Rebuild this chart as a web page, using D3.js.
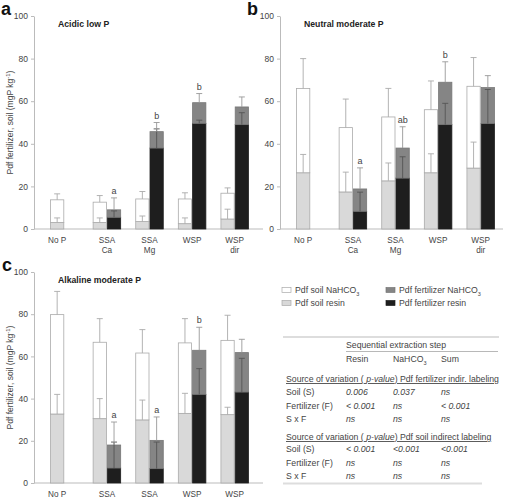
<!DOCTYPE html>
<html>
<head>
<meta charset="utf-8">
<script src="https://cdn.jsdelivr.net/npm/d3@7"></script>
<style>
  body { margin: 0; background: #fff; }
  svg { font-family: "Liberation Sans", Arial, sans-serif; }
</style>
</head>
<body>
<div id="chart"></div>
<script>
// categories (one slot per treatment)
var labelsAB = [["No P"], ["SSA", "Ca"], ["SSA", "Mg"], ["WSP"], ["WSP", "dir"]];
var labelsC = [["No P"], ["SSA"], ["SSA"], ["WSP"], ["WSP"]];
var yTicks = [0, 20, 40, 60, 80, 100];

// panel a - acidic low P (segment values, mg P/kg, and SE)
var aSoilResin = [3.1, 3.1, 3.5, 2.5, 4.7];
var aSoilResinErr = [2.1, 2.1, 2.6, 2.7, 4.6];
var aSoilNa = [10.6, 9.5, 10.6, 11.6, 12.1];
var aSoilNaErr = [2.8, 3.1, 3.5, 2.9, 2.5];
var aFertResin = [null, 5.5, 38, 49.6, 49];
var aFertResinErr = [null, 3, 9, 1.5, 5.6];
var aFertNa = [null, 3.5, 7.7, 9.7, 8.3];
var aFertNaErr = [null, 5.6, 4.3, 4.3, 4.7];
var aLetters = ["", "a", "b", "b", ""];

// panel b - neutral moderate P
var bSoilResin = [26.4, 17.4, 22.6, 26.4, 28.6];
var bSoilResinErr = [8.6, 9.3, 8.4, 8.9, 12.2];
var bSoilNa = [39.6, 30.2, 30, 29.6, 38.4];
var bSoilNaErr = [14, 13.4, 13.4, 13.5, 13.5];
var bFertResin = [null, 8.3, 23.9, 49, 49.5];
var bFertResinErr = [null, 9, 10, 10, 16];
var bFertNa = [null, 10.5, 14.1, 19.9, 16.9];
var bFertNaErr = [null, 9.9, 10, 9.6, 5.6];
var bLetters = ["", "a", "ab", "b", ""];

// panel c - alkaline moderate P
var cSoilResin = [32.7, 30.5, 29.9, 33, 32.4];
var cSoilResinErr = [9.3, 9.5, 9.4, 9.5, 3.5];
var cSoilNa = [47.1, 36.2, 31.7, 33.4, 35.2];
var cSoilNaErr = [11, 11.2, 11.1, 11.5, 11.9];
var cFertResin = [null, 7.1, 6.8, 42, 43.1];
var cFertResinErr = [null, 12.3, 12.6, 12.2, 16];
var cFertNa = [null, 10.9, 13.4, 20.9, 18.7];
var cFertNaErr = [null, 10.9, 11.1, 10.9, 6.3];
var cLetters = ["", "a", "a", "b", ""];

// legend and table text
var legendItems = [
  { name: "Pdf soil NaHCO", sub: "3", key: "soilNa" },
  { name: "Pdf fertilizer NaHCO", sub: "3", key: "fertNa" },
  { name: "Pdf soil resin", sub: "", key: "soilResin" },
  { name: "Pdf fertilizer resin", sub: "", key: "fertResin" }
];
var tableCols = ["Resin", "NaHCO", "Sum"];
var tableRows1 = [
  ["Soil (S)", "0.006", "0.037", "ns"],
  ["Fertilizer (F)", "< 0.001", "ns", "< 0.001"],
  ["S x F", "ns", "ns", "ns"]
];
var tableRows2 = [
  ["Soil (S)", "< 0.001", "<0.001", "<0.001"],
  ["Fertilizer (F)", "ns", "ns", "ns"],
  ["S x F", "ns", "ns", "ns"]
];

var fills = { soilNa: "#ffffff", soilResin: "#d9d9d9", fertNa: "#858585", fertResin: "#1e1e1e" };
var strokes = { soilNa: "#aaa", soilResin: "#aaa", fertNa: "#777", fertResin: "#1e1e1e" };
var textCol = "#444";

var svg = d3.select("#chart").append("svg")
    .attr("width", 508)
    .attr("height", 500);

function drawPanel(p) {
  var g = svg.append("g");
  var idx = d3.range(p.labels.length);

  var x = d3.scaleBand()
      .domain(idx)
      .range(p.xRange)
      .paddingInner(0.33)
      .paddingOuter(0.165);
  var bw = x.bandwidth() / 2;

  var y = d3.scaleLinear()
      .domain([0, 100])
      .range(p.yRange);

  // y axis
  var ax = g.append("g")
      .attr("transform", "translate(" + p.axisX + ",0)")
      .call(d3.axisLeft(y).tickValues(yTicks).tickSize(3).tickSizeOuter(0).tickPadding(3));
  ax.select(".domain").attr("stroke", "#bbb");
  ax.selectAll(".tick line").attr("stroke", "#bbb");
  ax.selectAll(".tick text").attr("fill", textCol).style("font-size", "8.5px");

  // baseline
  g.append("line")
      .attr("x1", p.axisX).attr("x2", p.xEnd)
      .attr("y1", y(0)).attr("y2", y(0))
      .attr("stroke", "#bbb");

  // rows of data
  var rows = idx.map(function (i) {
    return {
      i: i,
      sr: p.soilResin[i], srE: p.soilResinErr[i],
      sn: p.soilNa[i], snE: p.soilNaErr[i],
      fr: p.fertResin[i], frE: p.fertResinErr[i],
      fn: p.fertNa[i], fnE: p.fertNaErr[i],
      letter: p.letters[i]
    };
  });

  function soilX(d) { return x(d.i); }
  function fertX(d) { return x(d.i) + bw; }

  var segs = [];
  rows.forEach(function (d) {
    segs.push({ x: soilX(d), y0: 0, y1: d.sr, k: "soilResin" });
    segs.push({ x: soilX(d), y0: d.sr, y1: d.sr + d.sn, k: "soilNa" });
    if (d.fr != null) {
      segs.push({ x: fertX(d), y0: 0, y1: d.fr, k: "fertResin" });
      segs.push({ x: fertX(d), y0: d.fr, y1: d.fr + d.fn, k: "fertNa" });
    }
  });

  g.append("g").selectAll("rect")
      .data(segs)
      .enter()
      .append("rect")
      .attr("x", function (d) { return d.x + 0.5; })
      .attr("width", bw - 1)
      .attr("y", function (d) { return y(d.y1); })
      .attr("height", function (d) { return y(d.y0) - y(d.y1); })
      .attr("fill", function (d) { return fills[d.k]; })
      .attr("stroke", function (d) { return strokes[d.k]; })
      .attr("stroke-width", 0.8);

  // error bars
  var errs = [];
  rows.forEach(function (d) {
    errs.push({ x: soilX(d) + bw / 2, v: d.sr, e: d.srE, c: "#aaa" });
    errs.push({ x: soilX(d) + bw / 2, v: d.sr + d.sn, e: d.snE, c: "#aaa" });
    if (d.fr != null) {
      errs.push({ x: fertX(d) + bw / 2, v: d.fr, e: d.frE, c: "#555" });
      errs.push({ x: fertX(d) + bw / 2, v: d.fr + d.fn, e: d.fnE, c: "#999" });
    }
  });
  var eg = g.append("g").selectAll("g")
      .data(errs)
      .enter()
      .append("g");
  eg.append("line")
      .attr("x1", function (d) { return d.x; })
      .attr("x2", function (d) { return d.x; })
      .attr("y1", function (d) { return y(d.v); })
      .attr("y2", function (d) { return y(d.v + d.e); })
      .attr("stroke", function (d) { return d.c; })
      .attr("stroke-width", 0.9);
  eg.append("line")
      .attr("x1", function (d) { return d.x - 3; })
      .attr("x2", function (d) { return d.x + 3; })
      .attr("y1", function (d) { return y(d.v + d.e); })
      .attr("y2", function (d) { return y(d.v + d.e); })
      .attr("stroke", function (d) { return d.c; })
      .attr("stroke-width", 0.9);

  // significance letters
  g.append("g").selectAll("text")
      .data(rows.filter(function (d) { return d.letter; }))
      .enter()
      .append("text")
      .attr("x", function (d) { return fertX(d) + bw / 2; })
      .attr("y", function (d) { return y(d.fr + d.fn + d.fnE) - 4; })
      .attr("text-anchor", "middle")
      .attr("fill", textCol)
      .style("font-size", "9px")
      .text(function (d) { return d.letter; });

  // category labels (No P sits under its single bar)
  var lab = g.append("g").selectAll("text")
      .data(rows)
      .enter()
      .append("text")
      .attr("x", function (d) {
        return d.fr == null ? soilX(d) + bw / 2 : x(d.i) + x.bandwidth() / 2;
      })
      .attr("y", y(0) + 14)
      .attr("text-anchor", "middle")
      .attr("fill", textCol)
      .style("font-size", "8.2px");
  lab.each(function (d) {
    var t = d3.select(this);
    p.labels[d.i].forEach(function (line, k) {
      t.append("tspan")
          .attr("x", t.attr("x"))
          .attr("dy", k === 0 ? 0 : 9.5)
          .text(line);
    });
  });

  // panel letter and title
  g.append("text")
      .attr("x", p.letterX).attr("y", p.yRange[1] - 1)
      .style("font-size", "18px").style("font-weight", "bold")
      .attr("fill", "#111")
      .text(p.letter);
  g.append("text")
      .attr("x", p.titleX).attr("y", p.yRange[1] + 11)
      .style("font-size", "8.7px").style("font-weight", "bold")
      .attr("fill", "#222")
      .text(p.title);

  // y title
  if (p.yTitle) {
    var yt = g.append("text")
        .attr("transform", "translate(13," + (p.yRange[0] + p.yRange[1]) / 2 + ") rotate(-90)")
        .attr("text-anchor", "middle")
        .attr("fill", textCol)
        .style("font-size", "8.5px");
    yt.append("tspan").text("Pdf fertilizer, soil (mgP kg");
    yt.append("tspan").attr("dy", -3).style("font-size", "6px").text("-1");
    yt.append("tspan").attr("dy", 3).text(")");
  }
}

drawPanel({
  labels: labelsAB, xRange: [43, 256], axisX: 34, xEnd: 263, yRange: [229, 16],
  soilResin: aSoilResin, soilResinErr: aSoilResinErr, soilNa: aSoilNa, soilNaErr: aSoilNaErr,
  fertResin: aFertResin, fertResinErr: aFertResinErr, fertNa: aFertNa, fertNaErr: aFertNaErr,
  letters: aLetters, letter: "a", letterX: 1, title: "Acidic low P", titleX: 58, yTitle: true
});
drawPanel({
  labels: labelsAB, xRange: [289, 502], axisX: 280, xEnd: 503, yRange: [229, 16],
  soilResin: bSoilResin, soilResinErr: bSoilResinErr, soilNa: bSoilNa, soilNaErr: bSoilNaErr,
  fertResin: bFertResin, fertResinErr: bFertResinErr, fertNa: bFertNa, fertNaErr: bFertNaErr,
  letters: bLetters, letter: "b", letterX: 247, title: "Neutral moderate P", titleX: 304, yTitle: false
});
drawPanel({
  labels: labelsC, xRange: [43, 256], axisX: 34, xEnd: 263, yRange: [483, 272],
  soilResin: cSoilResin, soilResinErr: cSoilResinErr, soilNa: cSoilNa, soilNaErr: cSoilNaErr,
  fertResin: cFertResin, fertResinErr: cFertResinErr, fertNa: cFertNa, fertNaErr: cFertNaErr,
  letters: cLetters, letter: "c", letterX: 2, title: "Alkaline moderate P", titleX: 58, yTitle: true
});

// legend
var leg = svg.append("g").selectAll("g")
    .data(legendItems)
    .enter()
    .append("g")
    .attr("transform", function (d, i) {
      return "translate(" + (i % 2 === 0 ? 282 : 386) + "," + (290 + Math.floor(i / 2) * 13) + ")";
    });
leg.append("rect")
    .attr("x", 0).attr("y", -2.5).attr("width", 9).attr("height", 5)
    .attr("fill", function (d) { return fills[d.key]; })
    .attr("stroke", function (d) { return strokes[d.key]; })
    .attr("stroke-width", 0.7);
var lt = leg.append("text")
    .attr("x", 13).attr("y", 3)
    .attr("fill", textCol)
    .style("font-size", "8.7px");
lt.append("tspan").text(function (d) { return d.name; });
lt.append("tspan").attr("dy", 2.5).style("font-size", "5.5px").text(function (d) { return d.sub; });

// table
var tb = svg.append("g").attr("fill", textCol).style("font-size", "8.7px");
var colX = [346, 393, 441];
tb.append("line").attr("x1", 283).attr("x2", 499).attr("y1", 337).attr("y2", 337)
    .attr("stroke", "#ddd").attr("stroke-width", 2);
tb.append("text").attr("x", 346).attr("y", 348).text("Sequential extraction step");
tb.append("line").attr("x1", 346).attr("x2", 498).attr("y1", 351.5).attr("y2", 351.5)
    .attr("stroke", "#999").attr("stroke-width", 0.7);
tb.selectAll(".colh").data(tableCols).enter().append("text")
    .attr("x", function (d, i) { return colX[i]; })
    .attr("y", 362)
    .each(function (d) {
      var t = d3.select(this);
      t.append("tspan").text(d);
      if (d === "NaHCO") t.append("tspan").attr("dy", 2.5).style("font-size", "5.5px").text("3");
    });

function sourceLine(yPos, rest) {
  var t = tb.append("text").attr("x", 286).attr("y", yPos)
      .style("text-decoration", "underline");
  t.append("tspan").text("Source of variation ( ");
  t.append("tspan").style("font-style", "italic").text("p-value");
  t.append("tspan").text(") " + rest);
}
function rowsBlock(rows, y0) {
  rows.forEach(function (r, j) {
    var yy = y0 + j * 13.7;
    tb.append("text").attr("x", 286).attr("y", yy).text(r[0]);
    r.slice(1).forEach(function (v, k) {
      tb.append("text").attr("x", colX[k]).attr("y", yy)
          .style("font-style", "italic").text(v);
    });
  });
}
sourceLine(382, "Pdf fertilizer indir. labeling");
rowsBlock(tableRows1, 395);
sourceLine(440, "Pdf soil indirect labeling");
rowsBlock(tableRows2, 452);
tb.append("line").attr("x1", 283).attr("x2", 482).attr("y1", 483.5).attr("y2", 483.5)
    .attr("stroke", "#ddd").attr("stroke-width", 2);
</script>
</body>
</html>
